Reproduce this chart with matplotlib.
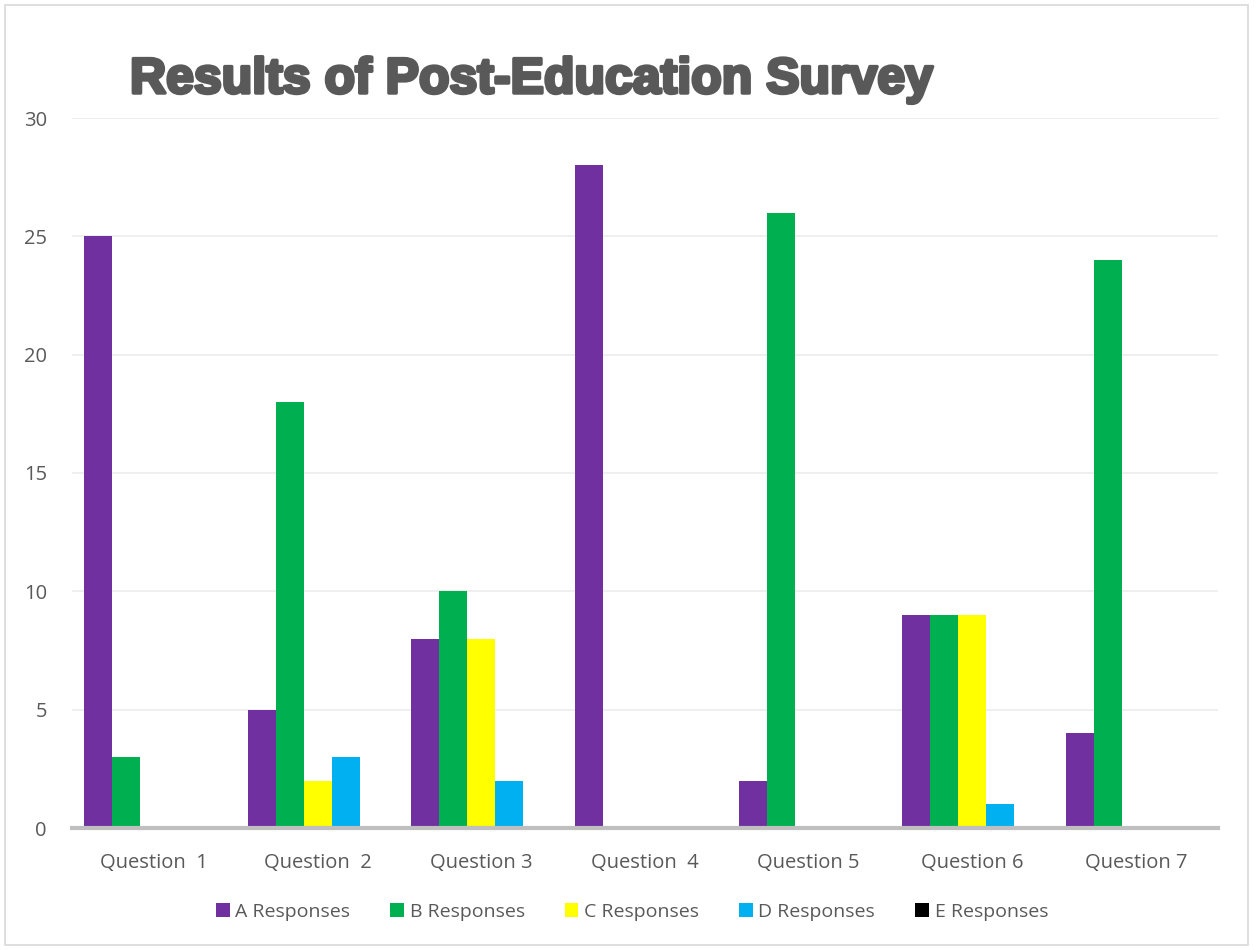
import matplotlib.pyplot as plt
import matplotlib.patheffects as pe
import numpy as np

questions = ["Question  1", "Question  2", "Question 3", "Question  4",
             "Question 5", "Question 6", "Question 7"]
series = ["A Responses", "B Responses", "C Responses", "D Responses", "E Responses"]
a_resp = [25, 5, 8, 28, 2, 9, 4]
b_resp = [3, 18, 10, 0, 26, 9, 24]
c_resp = [0, 2, 8, 0, 0, 9, 0]
d_resp = [0, 3, 2, 0, 0, 1, 0]
e_resp = [0, 0, 0, 0, 0, 0, 0]
colors = ["#7030A0", "#00B050", "#FFFF00", "#00B0F0", "#000000"]

plt.rcParams['font.family'] = ['Open Sans', 'DejaVu Sans']

fig = plt.figure(figsize=(12.56, 9.5), dpi=100)
ax = fig.add_axes([72 / 1256, 1 - 828 / 950, (1218 - 72) / 1256, (828 - 118) / 950])

x = np.arange(len(questions))
w = 0.171
data = [a_resp, b_resp, c_resp, d_resp, e_resp]
for i, (vals, name, col) in enumerate(zip(data, series, colors)):
    ax.bar(x + (i - 2) * w, vals, w, color=col, label=name, zorder=3)

ax.set_xlim(-0.5, len(questions) - 0.5)
ax.set_ylim(0, 30)
ax.set_yticks([0, 5, 10, 15, 20, 25, 30])
ax.set_xticks(x)
ax.set_xticklabels(questions)
ax.grid(axis="y", color="#EEEEEE", linewidth=1.3, zorder=0)
for s in ["top", "right", "left"]:
    ax.spines[s].set_visible(False)
ax.spines["bottom"].set_color("#BFBFBF")
ax.spines["bottom"].set_linewidth(3)
ax.spines["bottom"].set_zorder(4)
ax.tick_params(length=0, labelsize=14.5, colors="#595959")
ax.tick_params(axis="x", pad=18)
ax.tick_params(axis="y", pad=18)

fig.text(130 / 1256, 1 - 80 / 950, "Results of Post-Education Survey",
         fontsize=36, fontweight="heavy", color="#595959",
         family=["Liberation Sans", "DejaVu Sans"], va="center", ha="left",
         path_effects=[pe.withStroke(linewidth=2.5, foreground="#595959")])

leg = fig.legend(loc="center", bbox_to_anchor=(632 / 1256, 1 - 912 / 950), ncol=5,
                 frameon=False, fontsize=14, handlelength=0.7, handleheight=0.7,
                 handletextpad=0.3, columnspacing=2.05)
for t in leg.get_texts():
    t.set_color("#595959")

border = plt.Rectangle((5 / 1256, 5 / 950), 1243 / 1256, 940 / 950, transform=fig.transFigure,
                       fill=False, edgecolor="#D9D9D9", linewidth=1.2)
fig.patches.append(border)

fig.savefig("out.png", dpi=100)
